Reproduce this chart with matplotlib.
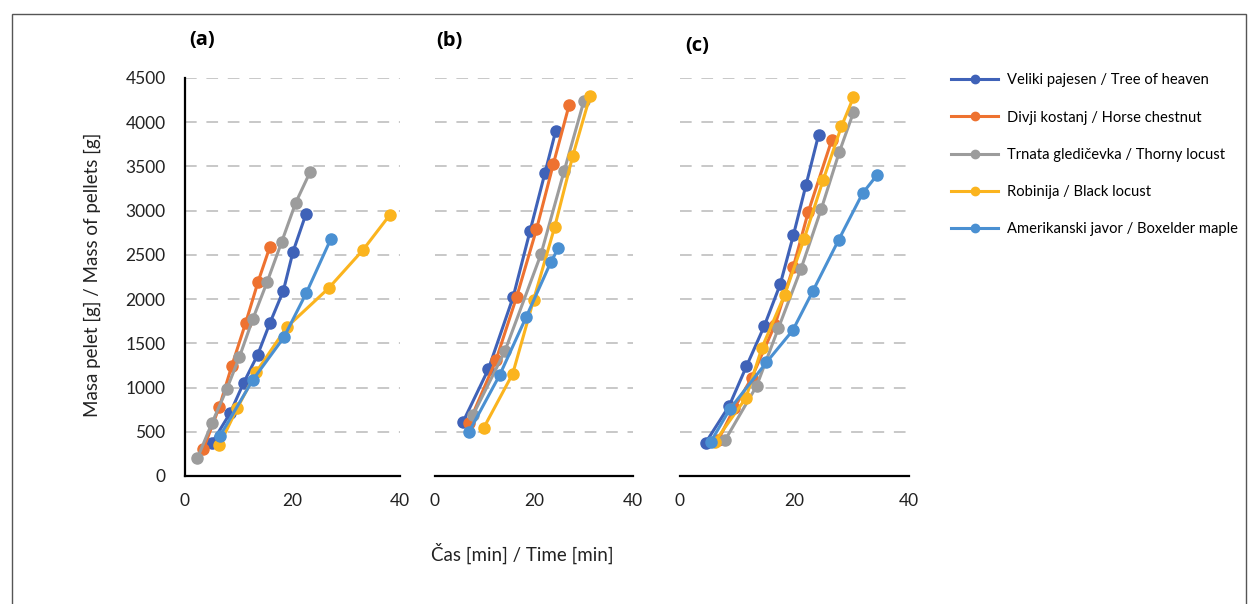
import matplotlib.pyplot as plt
from matplotlib.lines import Line2D

plt.rcParams['font.family'] = ['Lato', 'DejaVu Sans']

# series names and colours
series_names = [
    'Veliki pajesen / Tree of heaven',
    'Divji kostanj / Horse chestnut',
    'Trnata gledičevka / Thorny locust',
    'Robinija / Black locust',
    'Amerikanski javor / Boxelder maple',
]
series_colors = ['#3F62B8', '#EE7230', '#9C9C9C', '#FBB41E', '#4A90D2']

# panel (a): time [min], mass [g]
a_blue_t = [5.0, 8.4, 10.9, 13.5, 15.8, 18.3, 20.1, 22.5]
a_blue_m = [373, 712, 1052, 1368, 1730, 2095, 2536, 2962]
a_orange_t = [3.4, 6.4, 8.7, 11.3, 13.6, 15.8]
a_orange_m = [302, 784, 1244, 1734, 2197, 2593]
a_gray_t = [2.3, 5.0, 7.75, 10.1, 12.6, 15.3, 18.0, 20.6, 23.3]
a_gray_m = [200, 596, 980, 1342, 1772, 2197, 2649, 3090, 3441]
a_yellow_t = [6.4, 9.7, 13.3, 18.9, 26.7, 33.1, 38.1]
a_yellow_m = [350, 765, 1179, 1681, 2122, 2555, 2951]
a_lblue_t = [6.5, 12.6, 18.4, 22.6, 27.1]
a_lblue_m = [452, 1085, 1568, 2073, 2676]

# panel (b)
b_blue_t = [5.7, 10.8, 15.8, 19.2, 22.2, 24.4]
b_blue_m = [616, 1210, 2026, 2770, 3424, 3904]
b_orange_t = [6.9, 12.3, 16.5, 20.5, 23.9, 27.1]
b_orange_m = [604, 1307, 2026, 2789, 3526, 4195]
b_gray_t = [7.7, 14.1, 21.4, 26.1, 30.1]
b_gray_m = [692, 1409, 2506, 3450, 4244]
b_yellow_t = [9.8, 15.7, 19.9, 24.2, 27.8, 31.3]
b_yellow_m = [540, 1156, 1988, 2820, 3613, 4293]
b_lblue_t = [6.9, 13.1, 18.4, 23.4, 24.9]
b_lblue_m = [502, 1145, 1795, 2418, 2574]

# panel (c)
c_blue_t = [4.5, 8.6, 11.6, 14.7, 17.5, 19.8, 22.0, 24.2]
c_blue_m = [378, 794, 1239, 1693, 2166, 2721, 3288, 3855]
c_orange_t = [6.7, 9.5, 12.5, 16.6, 19.8, 22.4, 26.5]
c_orange_m = [410, 770, 1108, 1712, 2366, 2985, 3798]
c_gray_t = [7.9, 13.4, 17.2, 21.1, 24.7, 27.8, 30.3]
c_gray_m = [408, 1020, 1674, 2336, 3023, 3658, 4112]
c_yellow_t = [6.1, 11.5, 14.3, 18.3, 21.7, 25.0, 28.2, 30.3]
c_yellow_m = [389, 881, 1448, 2052, 2684, 3345, 3953, 4282]
c_lblue_t = [5.4, 8.7, 15.1, 19.7, 23.2, 27.7, 31.9, 34.4]
c_lblue_m = [389, 756, 1285, 1647, 2090, 2668, 3197, 3401]

panels = {
    '(a)': [(a_blue_t, a_blue_m), (a_orange_t, a_orange_m), (a_gray_t, a_gray_m),
            (a_yellow_t, a_yellow_m), (a_lblue_t, a_lblue_m)],
    '(b)': [(b_blue_t, b_blue_m), (b_orange_t, b_orange_m), (b_gray_t, b_gray_m),
            (b_yellow_t, b_yellow_m), (b_lblue_t, b_lblue_m)],
    '(c)': [(c_blue_t, c_blue_m), (c_orange_t, c_orange_m), (c_gray_t, c_gray_m),
            (c_yellow_t, c_yellow_m), (c_lblue_t, c_lblue_m)],
}
x_ticks = [0, 20, 40]
y_ticks = [0, 500, 1000, 1500, 2000, 2500, 3000, 3500, 4000, 4500]

W, H = 1248, 604
fig = plt.figure(figsize=(W / 100, H / 100), dpi=100)

# axes boxes in pixels: left, right
boxes = [(185, 400), (435, 633), (680, 909)]
top_px, bot_px = 78, 476
label_pos = [(202, 40), (449, 41), (697, 46)]

for i, (name, data) in enumerate(panels.items()):
    l, r = boxes[i]
    ax = fig.add_axes([l / W, 1 - bot_px / H, (r - l) / W, (bot_px - top_px) / H])
    ax.set_xlim(0, 40)
    ax.set_ylim(0, 4500)
    ax.set_xticks(x_ticks)
    ax.set_yticks(y_ticks)
    for y in y_ticks[1:]:
        ax.axhline(y, color='#C8C8C8', lw=1.4, dashes=(6, 5), zorder=0)
    for (t, m), c in zip(data, series_colors):
        ax.plot(t, m, color=c, lw=2.2, marker='o', markersize=8, zorder=3,
                clip_on=False)
    for s in ['top', 'right']:
        ax.spines[s].set_visible(False)
    ax.spines['bottom'].set_linewidth(1.6)
    ax.spines['left'].set_linewidth(1.6)
    ax.tick_params(length=0, labelsize=12.5, pad=12, colors='#222222')
    if i > 0:
        ax.spines['left'].set_visible(False)
        ax.set_yticklabels([])
    else:
        ax.tick_params(axis='y', pad=14)
    fig.text(label_pos[i][0] / W, 1 - label_pos[i][1] / H, name,
             fontsize=14.5, fontweight='bold', ha='center', va='center',
             family=['Open Sans', 'DejaVu Sans'])

fig.text(92 / W, 1 - 275 / H, 'Masa pelet [g] / Mass of pellets [g]',
         rotation=90, fontsize=13.5, ha='center', va='center', color='#222222')
fig.text(522 / W, 1 - 553 / H, 'Čas [min] / Time [min]',
         fontsize=13.5, ha='center', va='center', color='#222222')

handles = [Line2D([], [], color=c, lw=2.2, marker='o', markersize=6)
           for c in series_colors]
fig.legend(handles, series_names, loc='upper left',
           bbox_to_anchor=(938 / W, 1 - 60 / H), frameon=False,
           fontsize=10.6, handlelength=3.2, labelspacing=1.58, handletextpad=0.6)

# outer frame
fig.patches.append(plt.Rectangle((12 / W, -0.01), (1246 - 12) / W, 1 - 14 / H + 0.01,
                                 transform=fig.transFigure, fill=False,
                                 edgecolor='#555555', lw=1))

plt.savefig('out.png', dpi=100)
